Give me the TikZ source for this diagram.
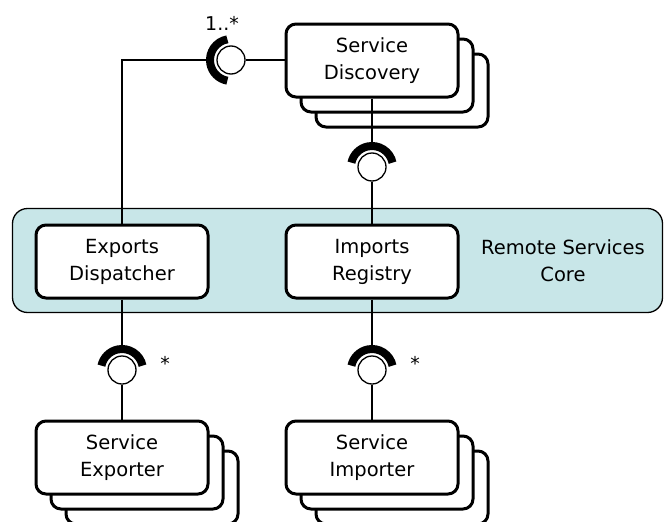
\documentclass[tikz,border=0pt]{standalone}
\usepackage{fontspec}
\setmainfont{DejaVu Sans}
\definecolor{corefill}{RGB}{200,230,232}
\begin{document}
\begin{tikzpicture}[x=1pt,y=-1pt,
  txt/.style={font=\fontsize{19.5}{27}\selectfont, align=center},
  box/.style={txt, draw, line width=3pt, rounded corners=10pt, fill=white,
    minimum width=172pt, minimum height=73pt, inner sep=0pt},
  band/.style={draw, line width=1.3pt, rounded corners=15pt, fill=corefill,
    minimum width=650pt, minimum height=104pt, inner sep=0pt},
  ball/.style={circle, draw, line width=1.3pt, fill=white, minimum size=28pt, inner sep=0pt},
  sock/.style={line width=8pt, line cap=butt},
  conn/.style={line width=1.3pt},
  lbl/.style={font=\fontsize{19}{23}\selectfont, anchor=base, inner sep=0pt}
]
\useasboundingbox (0,0) rectangle (664,522);

% core band
\node[band] (core) at (337.5,260.5) {};
\node[txt] (coretxt) at (563,260.5) {Remote Services\\Core};

% discovery stack
\node[box] (disc3) at (402,90.5) {};
\node[box] (disc2) at (387,75.5) {};
\node[box] (disc) at (372,60.5) {Service\\Discovery};

% core components
\node[box] (exp) at (122,261.5) {Exports\\Dispatcher};
\node[box] (imp) at (372,261.5) {Imports\\Registry};

% exporter stack
\node[box] (exr3) at (152,487.5) {};
\node[box] (exr2) at (137,472.5) {};
\node[box] (exr) at (122,457.5) {Service\\Exporter};

% importer stack
\node[box] (imr3) at (402,487.5) {};
\node[box] (imr2) at (387,472.5) {};
\node[box] (imr) at (372,457.5) {Service\\Importer};

% balls and sockets
\node[ball] (b0) at (231,60) {};
\coordinate (s0) at ([xshift=-25pt]b0.center);
\draw[sock] ([shift={(100:21pt)}]b0.center) arc[start angle=100, end angle=260, radius=21pt];

\node[ball] (b1) at (372,167) {};
\coordinate (s1) at ([yshift=25pt]b1.center);
\draw[sock] ([shift={(12:21pt)}]b1.center) arc[start angle=12, end angle=168, radius=21pt];

\node[ball] (b2) at (122,370) {};
\coordinate (s2) at ([yshift=25pt]b2.center);
\draw[sock] ([shift={(12:21pt)}]b2.center) arc[start angle=12, end angle=168, radius=21pt];

\node[ball] (b3) at (372,370) {};
\coordinate (s3) at ([yshift=25pt]b3.center);
\draw[sock] ([shift={(12:21pt)}]b3.center) arc[start angle=12, end angle=168, radius=21pt];

% connectors
\draw[conn] (exp.north) |- (s0);
\draw[conn] (b0) -- (disc.west |- b0);
\draw[conn] (disc.south) -- (s1);
\draw[conn] (b1) -- (imp.north);
\draw[conn] (exp.south) -- (s2);
\draw[conn] (b2) -- (exr.north);
\draw[conn] (imp.south) -- (s3);
\draw[conn] (b3) -- (imr.north);

% multiplicities
\node[lbl] (m0) at (222,30) {1..*};
\node[lbl] (m1) at (165,370) {*};
\node[lbl] (m2) at (415,370) {*};
\end{tikzpicture}
\end{document}
